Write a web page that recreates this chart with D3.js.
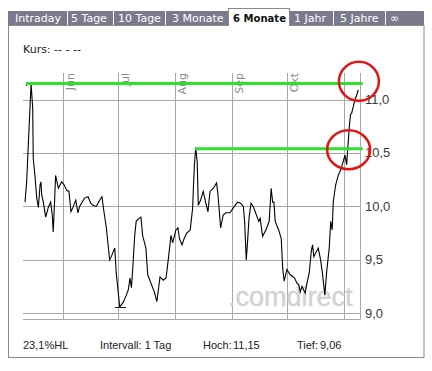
<!DOCTYPE html>
<html lang="de">
<head>
<meta charset="UTF-8">
<script src="https://cdnjs.cloudflare.com/ajax/libs/d3/7.8.5/d3.min.js"></script>
<style>
body { margin: 0; background: #fff; }
svg { display: block; font-family: "DejaVu Sans", Verdana, sans-serif; }
</style>
</head>
<body>
<svg id="chart" width="432" height="371"></svg>
<script>
// Kalendertage ab 10. Mai und Schlusskurse
const tage = [1.1, 2.0, 4.4, 5.3, 5.6, 6.6, 7.5, 8.4, 9.3, 9.8, 10.2, 11.1, 12.4, 13.8, 15.1, 16.0, 16.5, 17.1, 17.8, 19.3,
    21.1, 22.5, 23.9, 25.1, 26.2, 27.5, 28.8, 30.0, 30.9, 33.7, 35.5, 37.0, 38.2, 40.0, 41.9, 43.1, 44.2, 45.5, 47.3, 48.2,
    50.1, 50.9, 52.8, 54.6, 56.4, 57.5, 58.4, 59.2, 60.0, 61.0, 61.8, 63.5, 64.4, 65.3, 67.1, 68.1, 69.9, 71.7, 73.1, 74.8,
    76.6, 78.1, 79.3, 80.8, 81.7, 83.5, 84.6, 85.4, 86.8, 88.0, 89.4, 91.3, 92.6, 93.1, 93.6, 94.3, 95.1, 95.7, 97.0, 98.4,
    99.7, 101.0, 102.1, 103.9, 105.7, 106.4, 107.9, 109.3, 110.8, 113.0, 114.2, 115.4, 117.2, 118.8, 120.3, 121.0, 121.9, 122.5, 123.4, 124.5,
    125.7, 126.8, 128.7, 129.5, 130.8, 132.6, 134.4, 135.5, 136.3, 137.0, 137.7, 139.6, 141.0, 141.8, 142.6, 144.1, 145.9, 148.3, 149.6, 150.5,
    151.4, 152.3, 154.1, 155.0, 156.3, 157.4, 158.1, 158.8, 161.2, 162.5, 163.6, 164.8, 165.8, 167.2, 168.0, 168.8, 169.4, 170.7, 172.1, 173.4,
    174.5, 175.8, 176.7, 177.2, 178.1, 178.8, 179.4, 180.3, 181.2, 182.2, 183.0];
const kurs = [10.04, 10.23, 11.15, 10.92, 10.45, 10.27, 10.08, 9.99, 10.20, 10.23, 10.11, 10.04, 9.90, 9.99, 10.04, 9.92, 9.76, 9.99, 10.29, 10.17,
    10.23, 10.20, 10.15, 10.14, 9.95, 10.00, 10.06, 9.94, 10.00, 10.08, 10.09, 10.03, 10.01, 10.00, 10.06, 10.09, 9.95, 9.80, 9.50, 9.53,
    9.61, 9.38, 9.06, 9.10, 9.17, 9.22, 9.33, 9.24, 9.44, 9.73, 9.86, 9.89, 9.90, 9.73, 9.61, 9.36, 9.28, 9.20, 9.11, 9.34,
    9.31, 9.33, 9.50, 9.73, 9.66, 9.78, 9.80, 9.70, 9.64, 9.70, 9.75, 9.78, 9.98, 10.20, 10.39, 10.55, 10.42, 10.01, 10.06, 10.14,
    10.04, 9.95, 10.14, 10.17, 10.22, 10.12, 9.80, 9.92, 9.94, 9.94, 9.97, 10.00, 10.04, 10.03, 10.00, 9.86, 9.50, 9.64, 9.89, 10.03,
    10.00, 9.95, 9.86, 9.89, 9.72, 9.78, 9.86, 10.17, 10.04, 10.04, 9.86, 9.78, 9.70, 9.42, 9.30, 9.41, 9.36, 9.33, 9.28, 9.27,
    9.20, 9.25, 9.19, 9.28, 9.38, 9.58, 9.64, 9.53, 9.61, 9.50, 9.36, 9.17, 9.39, 9.61, 9.86, 9.78, 10.04, 10.20, 10.29, 10.34,
    10.40, 10.48, 10.39, 10.51, 10.73, 10.86, 10.87, 10.93, 11.00, 11.04, 11.09];

const monate = ["Jun", "Jul", "Aug", "Sep", "Okt", ""];
const monatsTage = [22, 52, 83, 114, 144, 175];
const kursTicks = [9.0, 9.5, 10.0, 10.5, 11.0];

const tabs = ["Intraday", "5 Tage", "10 Tage", "3 Monate", "6 Monate", "1 Jahr", "5 Jahre", "\u221e"];
const aktiverTab = "6 Monate";

// von Hand eingezeichnete Linien und Kreise
const linienVon = [1.6, 93.9];
const linienWert = [11.15, 10.54];
const kreisTag = [183.4, 177.8];
const kreisWert = [11.17, 10.53];

const hoch = 11.15, tief = 9.06;
const fuss = ["23,1%HL", "Intervall: 1 Tag", "Hoch:", "11,15", "Tief:", "9,06"];

const svg = d3.select('#chart');
const komma = d3.format('.1f');

// Rahmen
svg.append('rect')
    .attr('x', 8.5).attr('y', 25.5).attr('width', 415.5).attr('height', 332)
    .attr('fill', '#fff').attr('stroke', '#8a8a8a');

// Reiter
svg.append('rect')
    .attr('x', 8).attr('y', 11).attr('width', 416).attr('height', 14)
    .attr('fill', '#7a7a8c');

const tabX = [15, 71, 118, 172, 233, 294, 340, 390];
const trennX = [67.5, 113.5, 165.5, 333.5, 385.5];
const tabG = svg.append('g').style('font-size', '11px');

tabG.append('rect')
    .attr('x', 228.5).attr('y', 8.5).attr('width', 61).attr('height', 17)
    .attr('fill', '#fff').attr('stroke', '#8a8a8a');
tabG.append('rect')
    .attr('x', 229).attr('y', 24).attr('width', 60).attr('height', 3)
    .attr('fill', '#fff');

tabG.selectAll('line').data(trennX).enter().append('line')
    .attr('x1', d => d).attr('x2', d => d).attr('y1', 11).attr('y2', 25)
    .attr('stroke', '#fff');

tabG.selectAll('text').data(tabs).enter().append('text')
    .attr('x', (d, i) => tabX[i]).attr('y', 22)
    .attr('fill', d => d === aktiverTab ? '#111' : '#fff')
    .style('font-weight', d => d === aktiverTab ? 'bold' : 'normal')
    .each(function (d) {
        if (d === aktiverTab) {
            d3.select(this).attr('textLength', 53).attr('lengthAdjust', 'spacingAndGlyphs');
        }
    })
    .text(d => d);

svg.append('text')
    .attr('x', 23).attr('y', 53)
    .style('font-size', '11px').attr('fill', '#222')
    .text('Kurs: -- - --');

// Skalen
const x = d3.scaleLinear().domain([0, 184]).range([23, 360]);
const y = d3.scaleLinear().domain([9, 11]).range([313.3, 99.5]);
const oben = 73, unten = 319.5;

const grid = svg.append('g').attr('stroke', '#a8a8a8').attr('shape-rendering', 'crispEdges');
grid.selectAll('.h').data(kursTicks).enter().append('line')
    .attr('x1', x(0)).attr('x2', x(184))
    .attr('y1', d => Math.round(y(d)) + 0.5).attr('y2', d => Math.round(y(d)) + 0.5);
grid.append('line')
    .attr('x1', x(0)).attr('x2', x(184)).attr('y1', unten).attr('y2', unten);
grid.selectAll('.v').data(monatsTage.concat([184])).enter().append('line')
    .attr('x1', d => Math.round(x(d)) + 0.5).attr('x2', d => Math.round(x(d)) + 0.5)
    .attr('y1', oben).attr('y2', unten);

// Monatsnamen senkrecht
svg.append('g').selectAll('text').data(monate).enter().append('text')
    .attr('transform', (d, i) => `translate(${Math.round(x(monatsTage[i])) + 11},${oben})rotate(-90)`)
    .attr('text-anchor', 'end')
    .style('font-size', '11px')
    .attr('fill', '#8c8c8c')
    .text(d => d);

// Kursachse rechts
svg.append('g').selectAll('text').data(kursTicks).enter().append('text')
    .attr('x', 365).attr('y', d => y(d) + 4.5)
    .style('font-family', '"Liberation Sans", Arial, sans-serif')
    .style('font-size', '13px')
    .attr('fill', '#3a3a3a')
    .text(d => komma(d).replace('.', ','));

// Wasserzeichen
svg.append('text')
    .attr('x', 228).attr('y', 306)
    .style('font-family', '"Liberation Sans", Arial, sans-serif')
    .style('font-size', '27px')
    .attr('fill', '#d2d2d2')
    .attr('stroke', '#d2d2d2').attr('stroke-width', 0.4)
    .text('.comdirect');

// Kurslinie
const linie = d3.line().x((d, i) => x(tage[i])).y(d => y(d));
svg.append('path')
    .datum(kurs)
    .attr('fill', 'none').attr('stroke', '#000').attr('stroke-width', 1.1)
    .attr('d', linie);

// Hoch/Tief Markierungen
const iHoch = kurs.indexOf(hoch), iTief = kurs.indexOf(tief);
svg.append('path')
    .attr('fill', 'none').attr('stroke', '#222').attr('shape-rendering', 'crispEdges')
    .attr('d', `M${x(tage[iHoch]) - 5},${Math.round(y(hoch)) + 3}V${Math.round(y(hoch)) + 0.5}H${x(tage[iHoch]) + 1}`);
svg.append('line')
    .attr('stroke', '#222').attr('shape-rendering', 'crispEdges')
    .attr('x1', x(tage[iTief]) - 5).attr('x2', x(tage[iTief]) + 6)
    .attr('y1', Math.round(y(tief)) + 0.5).attr('y2', Math.round(y(tief)) + 0.5);

// gruene Linien
svg.append('g').selectAll('line').data(linienWert).enter().append('line')
    .attr('x1', (d, i) => x(linienVon[i])).attr('x2', x(185.5))
    .attr('y1', d => y(d)).attr('y2', d => y(d))
    .attr('stroke', '#2fe02f').attr('stroke-width', 3);

// rote Kreise
svg.append('g').selectAll('ellipse').data(kreisWert).enter().append('ellipse')
    .attr('cx', (d, i) => x(kreisTag[i])).attr('cy', d => y(d))
    .attr('rx', (d, i) => i === 0 ? 20 : 21.5).attr('ry', 19.5)
    .attr('fill', 'none').attr('stroke', '#e01414').attr('stroke-width', 2.5);

// Fusszeile
const fussX = [23, 100, 203, 233, 297, 320];
svg.append('g').selectAll('text').data(fuss).enter().append('text')
    .attr('x', (d, i) => fussX[i]).attr('y', 348.5)
    .style('font-family', '"Liberation Sans", Arial, sans-serif')
    .style('font-size', '11px')
    .attr('fill', '#222')
    .text(d => d);
</script>
</body>
</html>
